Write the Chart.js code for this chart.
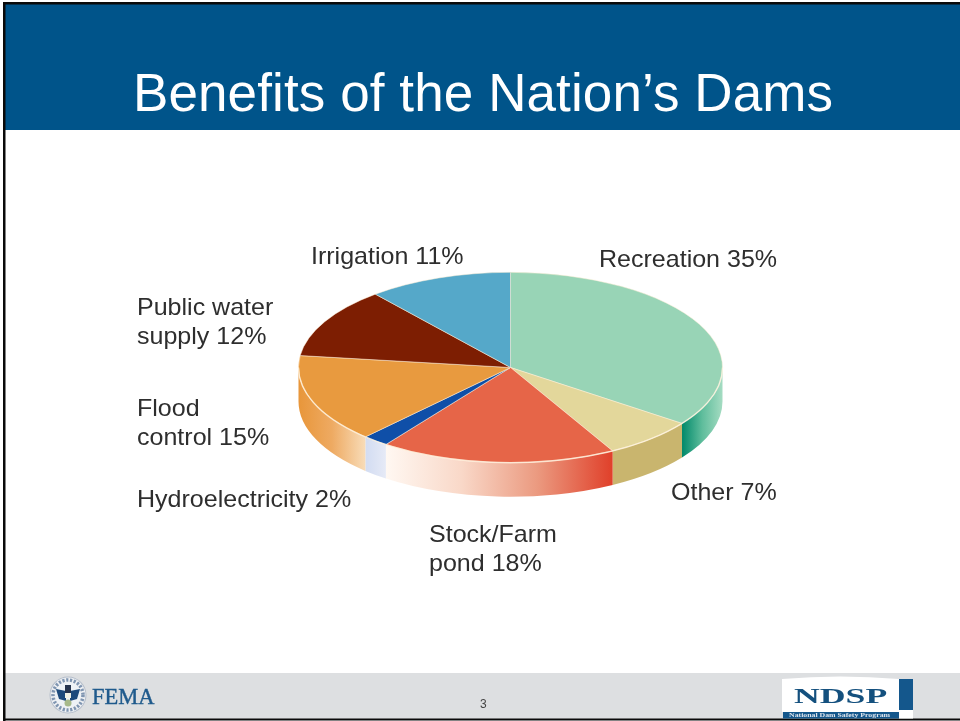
<!DOCTYPE html>
<html>
<head>
<meta charset="utf-8">
<title>Benefits of the Nation’s Dams</title>
<style>html,body{margin:0;padding:0;background:#fff}canvas{display:block}</style>
<script src="https://cdn.jsdelivr.net/npm/chart.js@4"></script>
</head>
<body>
<canvas id="c" width="960" height="721"></canvas>
<script>
// Share of U.S. dams by primary purpose, clockwise from twelve o'clock.
const categories = ["Recreation", "Other", "Stock/Farm pond", "Hydroelectricity", "Flood control", "Public water supply", "Irrigation"];
const shares = [35, 7, 18, 2, 15, 12, 11];
const topColors = ["#98d4b6", "#e3d79b", "#e66548", "#0f4fa8", "#e89a3f", "#7d1e02", "#55a8c9"];
const slideTitle = "Benefits of the Nation’s Dams";
const pageNumber = "3";

// Colours of the pie's rim, listed left to right across each slice.
const rimColors = [
  ["#00896a", "#5fbd9c", "#a5dcc2"],
  ["#c9b56e", "#c9b56e"],
  ["#fff8f2", "#f9d8c8", "#eb9a80", "#e0402a"],
  ["#d2dcf2", "#e6eaf6"],
  ["#e8963a", "#eeaa62", "#f8dcb8"],
  ["#7d1e02", "#7d1e02"],
  ["#55a8c9", "#55a8c9"]
];

const squash = 0.449;     // vertical flattening of the disc
const rimDepth = 34;      // height of the disc's side wall

// Text blocks placed by hand around the pie: [category index, left, first baseline, line breaks].
const labelLayout = [
  [0, 599, 267, ["Recreation {v}%"]],
  [1, 671, 500, ["Other {v}%"]],
  [2, 429, 542, ["Stock/Farm", "pond {v}%"]],
  [3, 137, 507, ["Hydroelectricity {v}%"]],
  [4, 137, 416, ["Flood", "control {v}%"]],
  [5, 137, 315, ["Public water", "supply {v}%"]],
  [6, 311, 264, ["Irrigation {v}%"]]
];

function slideFrame(ctx) {
  ctx.save();
  ctx.fillStyle = "#ffffff";
  ctx.fillRect(0, 0, 960, 721);
  // header band
  ctx.fillStyle = "#00548a";
  ctx.fillRect(5, 4, 955, 126);
  ctx.fillStyle = "#ffffff";
  ctx.font = "53px 'Liberation Sans', Arial, sans-serif";
  ctx.letterSpacing = "0.1px";
  ctx.textBaseline = "alphabetic";
  ctx.fillText(slideTitle, 133, 111);
  ctx.letterSpacing = "0px";
  // footer band
  ctx.fillStyle = "#dddfe1";
  ctx.fillRect(5, 673, 955, 46);
  ctx.fillStyle = "#444444";
  ctx.font = "12px 'Liberation Sans', Arial, sans-serif";
  ctx.fillText(pageNumber, 480, 708);
  // outer rule
  ctx.fillStyle = "#0a0a0a";
  ctx.fillRect(3, 2, 957, 2.5);
  ctx.fillRect(3, 2, 2.5, 719);
  ctx.fillRect(3, 718.5, 957, 2);
  femaMark(ctx);
  ndspMark(ctx);
  ctx.restore();
}

function femaMark(ctx) {
  const x = 68, y = 695;
  const disc = (r, c) => { ctx.beginPath(); ctx.arc(x, y, r, 0, Math.PI * 2); ctx.fillStyle = c; ctx.fill(); };
  ctx.save();
  ctx.filter = "blur(0.7px)";
  disc(18.5, "#b4bdca");
  disc(17.5, "#eef0f3");
  // lettered ring of the seal
  ctx.beginPath();
  ctx.arc(x, y, 15, 0, Math.PI * 2);
  ctx.strokeStyle = "#7f95b1";
  ctx.lineWidth = 3.5;
  ctx.setLineDash([2.2, 1.6]);
  ctx.stroke();
  ctx.setLineDash([]);
  disc(12.5, "#eef2f6");
  // eagle wings and body
  ctx.fillStyle = "#1d4a7c";
  ctx.beginPath();
  ctx.moveTo(x - 12, y - 6); ctx.lineTo(x - 2, y - 4); ctx.lineTo(x - 2, y + 6); ctx.lineTo(x - 9, y + 4); ctx.closePath();
  ctx.moveTo(x + 12, y - 6); ctx.lineTo(x + 2, y - 4); ctx.lineTo(x + 2, y + 6); ctx.lineTo(x + 9, y + 4); ctx.closePath();
  ctx.fill();
  ctx.fillStyle = "#26344e";
  ctx.fillRect(x - 3, y - 10, 6, 9);
  ctx.fillStyle = "#f2f2e6";
  ctx.fillRect(x - 3, y - 2, 6, 5);
  ctx.fillStyle = "#a7b98a";
  ctx.beginPath(); ctx.arc(x, y + 8, 3.5, 0, Math.PI * 2); ctx.fill();
  ctx.restore();
  ctx.fillStyle = "#1f5a8c";
  ctx.strokeStyle = "#1f5a8c";
  ctx.lineWidth = 0.4;
  ctx.font = "22.5px 'Liberation Serif', serif";
  ctx.fillText("FEMA", 92, 704);
  ctx.strokeText("FEMA", 92, 704);
}

function ndspMark(ctx) {
  ctx.save();
  ctx.filter = "blur(0.4px)";
  ctx.fillStyle = "#ffffff";
  ctx.beginPath();
  ctx.moveTo(782, 679);
  ctx.quadraticCurveTo(840, 674, 899, 679);
  ctx.lineTo(899, 712);
  ctx.lineTo(782, 712);
  ctx.closePath();
  ctx.fill();
  ctx.fillRect(899, 710, 14, 8.5);
  ctx.fillStyle = "#14578c";
  ctx.fillRect(899, 679, 14, 31);
  ctx.fillRect(783, 712, 116, 6.5);
  ctx.save();
  ctx.translate(789, 717);
  ctx.scale(1.3, 1);
  ctx.fillStyle = "#dfe6ee";
  ctx.font = "bold 6px 'Liberation Serif', serif";
  ctx.fillText("National Dam Safety Program", 0, 0);
  ctx.restore();
  ctx.save();
  ctx.translate(794, 703);
  ctx.scale(1.7, 1);
  ctx.fillStyle = "#14507e";
  ctx.font = "bold 21px 'Liberation Serif', serif";
  ctx.fillText("NDSP", 0, 0);
  ctx.restore();
  ctx.restore();
}

// Builds the outline of a slice's side wall between two canvas angles.
function wallPath(ctx, arc, from, to) {
  const rx = arc.outerRadius, ry = arc.outerRadius * squash;
  ctx.beginPath();
  ctx.ellipse(arc.x, arc.y, rx, ry, 0, from, to);
  ctx.ellipse(arc.x, arc.y + rimDepth, rx, ry, 0, to, from, true);
  ctx.closePath();
}

const tiltedDisc = {
  id: "tiltedDisc",
  beforeDraw(chart) { slideFrame(chart.ctx); },
  beforeDatasetsDraw(chart) {
    const ctx = chart.ctx;
    const arcs = chart.getDatasetMeta(0).data.map(a =>
      a.getProps(["x", "y", "startAngle", "endAngle", "outerRadius"], true));
    // the front half of the side wall, from the computed slice angles
    arcs.forEach((arc, i) => {
      const from = Math.max(arc.startAngle, 0);
      const to = Math.min(arc.endAngle, Math.PI);
      if (to <= from) return;
      const xa = arc.x + arc.outerRadius * Math.cos(from);
      const xb = arc.x + arc.outerRadius * Math.cos(to);
      const grad = ctx.createLinearGradient(Math.min(xa, xb), 0, Math.max(xa, xb), 0);
      rimColors[i].forEach((c, k, all) => grad.addColorStop(k / (all.length - 1), c));
      ctx.save();
      wallPath(ctx, arc, from, to);
      ctx.fillStyle = grad;
      ctx.fill();
      ctx.restore();
    });
    // flatten the circular pie into an ellipse for the top face
    const a = arcs[0];
    ctx.save();
    ctx.translate(a.x, a.y);
    ctx.scale(1, squash);
    ctx.translate(-a.x, -a.y);
  },
  afterDatasetsDraw(chart) {
    const ctx = chart.ctx;
    ctx.restore();
    // pale highlight where the top face meets the wall
    const a = chart.getDatasetMeta(0).data[0].getProps(["x", "y", "outerRadius"], true);
    ctx.save();
    ctx.beginPath();
    ctx.ellipse(a.x, a.y, a.outerRadius, a.outerRadius * squash, 0, 0, Math.PI);
    ctx.strokeStyle = "rgba(255,244,226,0.75)";
    ctx.lineWidth = 1.4;
    ctx.stroke();
    ctx.restore();
    // callout text, slightly widened and soft like the rest of the diagram
    ctx.save();
    ctx.fillStyle = "#2e2e2e";
    ctx.font = "23.4px 'Liberation Sans', Arial, sans-serif";
    ctx.filter = "blur(0.45px)";
    labelLayout.forEach(([i, x, y, lines]) => {
      lines.forEach((line, n) => {
        ctx.save();
        ctx.translate(x, y + n * 29);
        ctx.scale(1.07, 1);
        ctx.fillText(line.replace("{v}", shares[i]), 0, 0);
        ctx.restore();
      });
    });
    ctx.restore();
  }
};

new Chart(document.getElementById("c"), {
  type: "pie",
  data: {
    labels: categories,
    datasets: [{
      data: shares,
      backgroundColor: topColors,
      borderColor: "rgba(255,240,215,0.7)",
      borderWidth: 1
    }]
  },
  options: {
    responsive: false,
    animation: false,
    layout: { padding: { left: 298, right: 237, top: 155, bottom: 141 } },
    plugins: { legend: { display: false }, title: { display: false }, tooltip: { enabled: false } }
  },
  plugins: [tiltedDisc]
});
</script>
</body>
</html>
